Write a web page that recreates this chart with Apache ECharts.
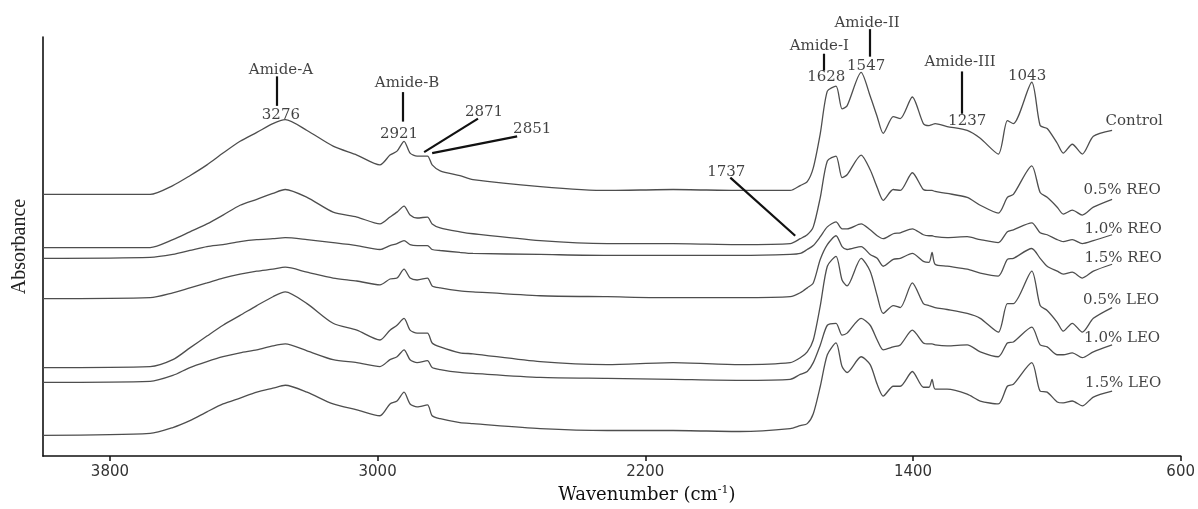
<!DOCTYPE html>
<html><head><meta charset="utf-8">
<script src="https://cdn.jsdelivr.net/npm/echarts@6/dist/echarts.min.js"></script>
<style>html,body{margin:0;padding:0;background:#fff}#c{width:1198px;height:509px}</style>
</head><body><div id="c"></div>
<script>
// Wavenumber grid (cm-1), shared by all spectra
const wavenumbers = [4000,3680,3612,3561,3510,3462,3411,3361,3313,3276,
  3211,3133,3062,2993,2963,2942,2921,2903,2882,2851,
  2837,2813,2754,2715,2514,2314,2117,1917,1767,1737,
  1716,1698,1677,1656,1630,1612,1597,1555,1528,1507,
  1489,1459,1438,1402,1369,1352,1343,1334,1298,1238,
  1199,1145,1118,1100,1045,1020,999,969,951,924,
  894,861,805];

// Absorbance (a.u., stacked with offsets as in the figure)
const control = [2.66,2.66,2.75,2.85,2.96,3.08,3.20,3.29,3.38,3.42,
  3.31,3.15,3.06,2.96,3.06,3.10,3.20,3.08,3.05,3.05,
  2.96,2.90,2.85,2.81,2.74,2.70,2.71,2.70,2.70,2.75,
  2.79,2.93,3.28,3.71,3.76,3.53,3.56,3.90,3.66,3.45,
  3.28,3.45,3.43,3.65,3.38,3.36,3.37,3.38,3.35,3.31,
  3.23,3.07,3.41,3.38,3.80,3.36,3.33,3.18,3.08,3.17,
  3.07,3.25,3.31];
const reo05 = [2.12,2.12,2.20,2.28,2.36,2.45,2.55,2.61,2.67,2.71,
  2.63,2.48,2.43,2.36,2.43,2.48,2.54,2.45,2.42,2.43,
  2.36,2.32,2.28,2.26,2.19,2.16,2.16,2.15,2.16,2.21,
  2.25,2.33,2.63,3.00,3.05,2.83,2.86,3.06,2.91,2.73,
  2.60,2.71,2.70,2.88,2.71,2.70,2.70,2.69,2.67,2.63,
  2.55,2.47,2.63,2.66,2.95,2.68,2.63,2.53,2.46,2.50,
  2.45,2.53,2.61];
const reo10 = [2.01,2.02,2.05,2.09,2.13,2.15,2.18,2.20,2.21,2.22,
  2.20,2.17,2.14,2.10,2.14,2.16,2.19,2.15,2.14,2.14,
  2.10,2.09,2.07,2.06,2.05,2.04,2.04,2.04,2.05,2.06,
  2.10,2.14,2.23,2.33,2.38,2.31,2.31,2.36,2.30,2.24,
  2.21,2.26,2.27,2.31,2.25,2.24,2.24,2.23,2.22,2.23,
  2.20,2.17,2.28,2.30,2.37,2.27,2.25,2.20,2.18,2.20,
  2.16,2.19,2.25];
const reo15 = [1.60,1.61,1.66,1.71,1.76,1.81,1.85,1.88,1.90,1.92,
  1.87,1.81,1.78,1.74,1.80,1.81,1.90,1.81,1.79,1.81,
  1.73,1.71,1.68,1.67,1.63,1.62,1.61,1.61,1.62,1.66,
  1.71,1.76,2.00,2.15,2.24,2.13,2.10,2.13,2.05,2.01,
  1.93,2.00,2.01,2.06,1.98,1.97,2.07,1.95,1.93,1.90,
  1.86,1.83,2.00,2.01,2.11,2.01,1.93,1.88,1.85,1.87,
  1.81,1.88,1.95];
const leo05 = [0.90,0.91,0.98,1.10,1.22,1.33,1.43,1.53,1.62,1.67,
  1.55,1.35,1.28,1.18,1.28,1.33,1.40,1.28,1.25,1.25,
  1.15,1.11,1.05,1.04,0.96,0.93,0.95,0.93,0.95,1.00,
  1.06,1.18,1.53,1.93,2.03,1.79,1.73,2.01,1.88,1.63,
  1.45,1.53,1.51,1.76,1.55,1.53,1.52,1.51,1.49,1.45,
  1.40,1.26,1.55,1.55,1.88,1.53,1.48,1.36,1.27,1.35,
  1.26,1.40,1.51];
const leo10 = [0.75,0.76,0.82,0.90,0.96,1.01,1.05,1.08,1.12,1.14,
  1.07,0.98,0.95,0.91,0.98,1.01,1.08,0.98,0.95,0.97,
  0.90,0.88,0.85,0.84,0.80,0.79,0.78,0.77,0.78,0.83,
  0.86,0.95,1.13,1.33,1.35,1.23,1.25,1.40,1.33,1.18,
  1.08,1.11,1.13,1.28,1.15,1.14,1.14,1.13,1.12,1.13,
  1.06,1.01,1.15,1.16,1.31,1.13,1.11,1.03,1.03,1.05,
  1.00,1.06,1.13];
const leo15 = [0.21,0.23,0.29,0.36,0.45,0.53,0.59,0.65,0.69,0.72,
  0.65,0.53,0.47,0.41,0.53,0.56,0.65,0.53,0.50,0.52,
  0.41,0.38,0.34,0.33,0.28,0.26,0.26,0.25,0.28,0.31,
  0.33,0.43,0.71,1.03,1.15,0.91,0.85,1.01,0.93,0.73,
  0.61,0.71,0.71,0.86,0.70,0.70,0.78,0.68,0.68,0.63,
  0.56,0.53,0.71,0.73,0.95,0.66,0.65,0.55,0.54,0.56,
  0.51,0.60,0.66];

const seriesNames = ['Control','0.5% REO','1.0% REO','1.5% REO','0.5% LEO','1.0% LEO','1.5% LEO'];
const seriesValues = [control, reo05, reo10, reo15, leo05, leo10, leo15];

// Sample name labels [wavenumber, absorbance, text]
const sampleLabels = [[739,3.41,'Control'],[775,2.70,'0.5% REO'],[772,2.31,'1.0% REO'],
  [772,2.01,'1.5% REO'],[778,1.59,'0.5% LEO'],[775,1.20,'1.0% LEO'],[772,0.74,'1.5% LEO']];

// Peak annotation texts [wavenumber, absorbance, text]
const peakTexts = [[3289,3.92,'Amide-A'],[3289,3.47,'3276'],[2912,3.79,'Amide-B'],[2936,3.27,'2921'],
  [2682,3.50,'2871'],[2538,3.32,'2851'],[1537,4.40,'Amide-II'],[1540,3.96,'1547'],
  [1680,4.17,'Amide-I'],[1659,3.85,'1628'],[1259,4.00,'Amide-III'],[1238,3.41,'1237'],
  [1059,3.86,'1043'],[1958,2.89,'1737']];

// Leader segments [[w1,a1],[w2,a2]]
const peakLines = [[[3301,3.86],[3301,3.56]],[[2924,3.70],[2924,3.40]],
  [[2700,3.43],[2861,3.09]],[[2583,3.25],[2837,3.08]],
  [[1528,4.34],[1528,4.06]],[[1668,4.09],[1668,3.92]],
  [[1253,3.91],[1253,3.48]],[[1946,2.83],[1752,2.24]]];

const xTicks = [3800,3000,2200,1400,600];

const serif = 'DejaVu Serif';
const series = seriesNames.map((name, i) => ({
  name, type: 'line', showSymbol: false, smooth: 0.25,
  data: wavenumbers.map((w, j) => [w, seriesValues[i][j]]),
  lineStyle: {color: '#4e4e4e', width: 1.3}, silent: true, z: 2
}));
series.push({
  type: 'lines', coordinateSystem: 'cartesian2d', clip: false, silent: true, z: 3,
  lineStyle: {color: '#111', width: 2.2, opacity: 1},
  data: peakLines.map(c => ({coords: c}))
});
series.push({
  type: 'scatter', symbolSize: 0, clip: false, silent: true, z: 4,
  data: peakTexts.concat(sampleLabels),
  label: {show: true, position: 'inside', formatter: p => p.data[2],
    fontFamily: serif, fontSize: 15, color: '#111'}
});

const chart = echarts.init(document.getElementById('c'));
chart.setOption({
  animation: false,
  backgroundColor: '#fff',
  grid: {left: 43, right: 16, top: 37, bottom: 46, containLabel: false},
  xAxis: {
    type: 'value', inverse: true, min: 600, max: 4000,
    axisLine: {show: true, lineStyle: {color: '#111', width: 1.6}},
    axisTick: {show: true, customValues: xTicks, length: 5, lineStyle: {color: '#111', width: 1.5}},
    axisLabel: {show: true, customValues: xTicks, formatter: v => String(v),
      fontFamily: 'DejaVu Sans', fontSize: 15, color: '#333', margin: 9},
    splitLine: {show: false},
    name: 'Wavenumber (cm{sup|-1})', nameLocation: 'middle', nameGap: 25,
    nameTextStyle: {fontFamily: serif, fontSize: 18, color: '#111', padding: [0,0,0,70],
      rich: {sup: {fontFamily: serif, fontSize: 11, color: '#111', verticalAlign: 'top', padding: [0,0,9,0]}}}
  },
  yAxis: {
    type: 'value', min: 0, max: 4.26,
    axisLine: {show: true, lineStyle: {color: '#111', width: 1.6}},
    axisTick: {show: false}, axisLabel: {show: false}, splitLine: {show: false},
    name: 'Absorbance', nameLocation: 'middle', nameGap: 13,
    nameTextStyle: {fontFamily: 'Liberation Serif', fontSize: 20, color: '#222'}
  },
  series
});
</script></body></html>
